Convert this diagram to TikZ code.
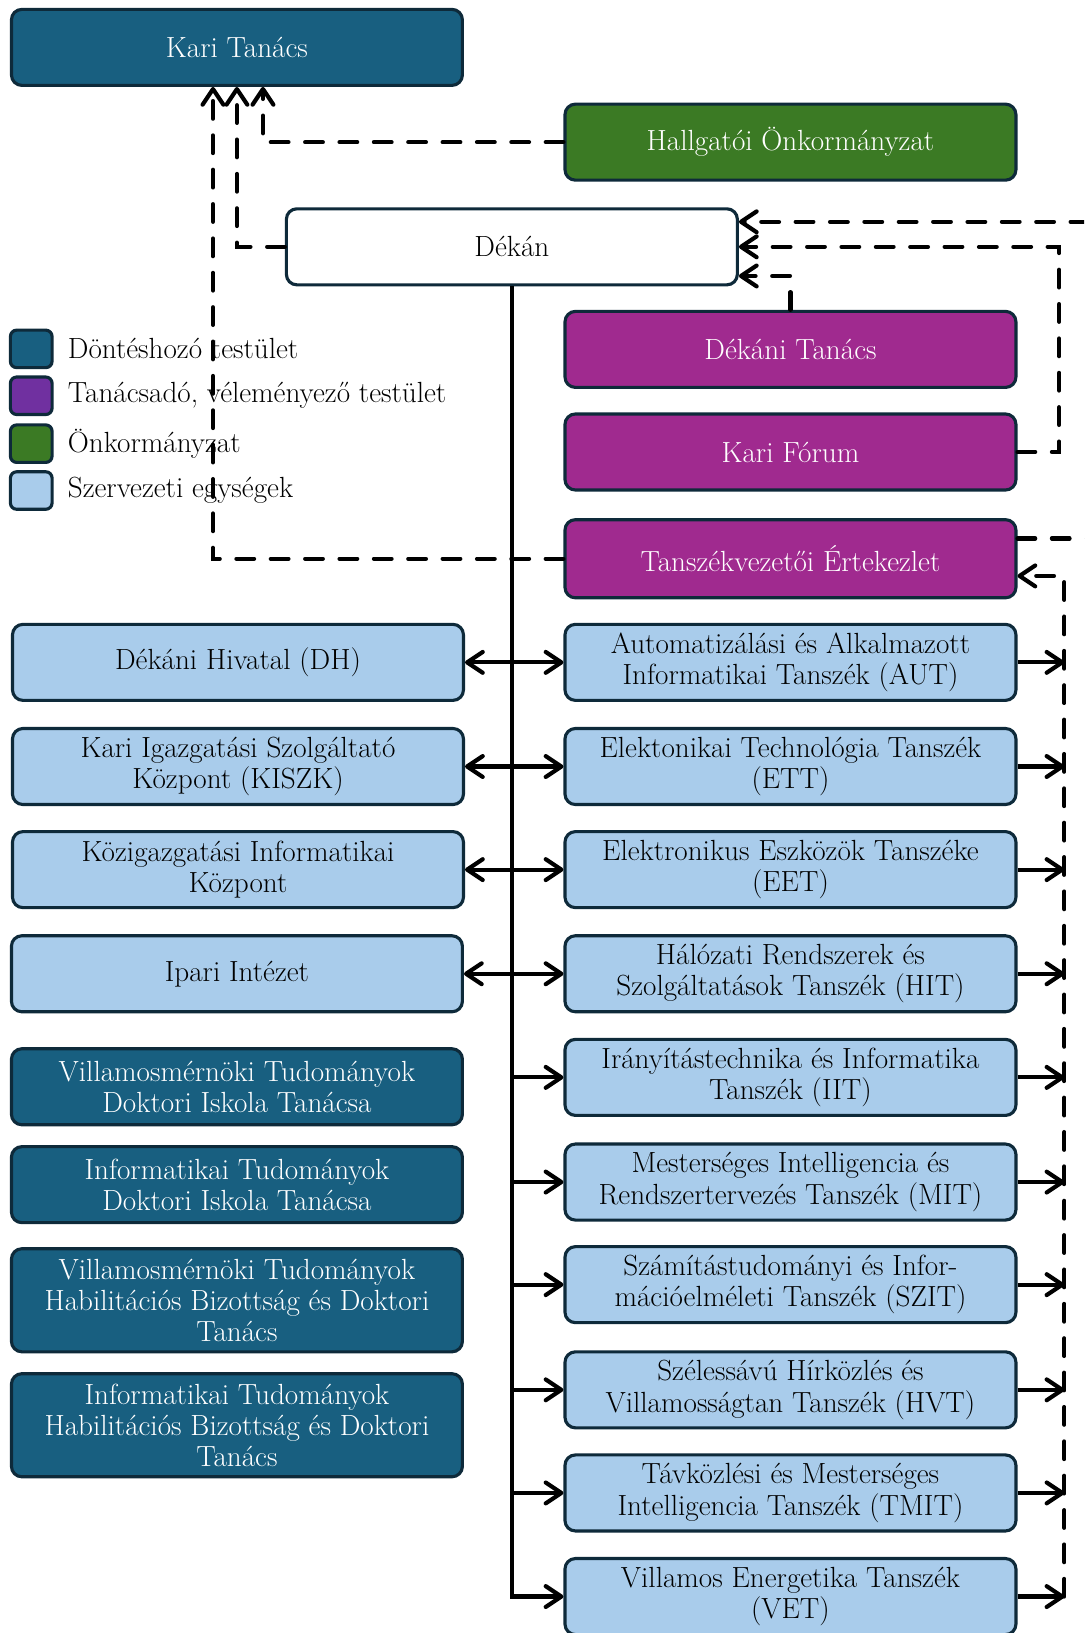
\documentclass[tikz,border=0pt]{standalone}
\usetikzlibrary{arrows.meta}

\definecolor{kekhatar}{RGB}{14,42,58}
\definecolor{sotetkek}{RGB}{24,95,128}
\definecolor{vilagoskek}{RGB}{169,204,235}
\definecolor{zold}{RGB}{59,122,36}
\definecolor{lila}{RGB}{160,42,143}
\definecolor{ibolya}{RGB}{112,48,160}

\tikzset{
	doboz/.style={draw=kekhatar, line width=3pt, rounded corners=10pt, minimum width=433pt, minimum height=73pt, inner sep=0pt, align=center, font=\fontsize{28}{30}\selectfont},
	dontes/.style={doboz, fill=sotetkek, text=white},
	tanacs/.style={doboz, fill=lila, text=white},
	egyseg/.style={doboz, fill=vilagoskek},
	jelmagyarazat/.style={draw=kekhatar, line width=3pt, rounded corners=6pt, minimum width=40pt, minimum height=36pt, inner sep=0pt},
	jeltext/.style={anchor=west, inner sep=0pt, font=\fontsize{28}{30}\selectfont},
	vonal/.style={line width=4pt, arrows={-}, >={Straight Barb[round, length=15pt, width=20pt]}},
	szaggatott/.style={vonal, line cap=round, dash pattern=on 17pt off 16pt}
}

\begin{document}
\begin{tikzpicture}[x=1pt, y=-1pt]
	\useasboundingbox (0,0) rectangle (1041,1568);
	\clip (0,0) rectangle (1041,1568);

	% felso szint
	\node[dontes] (kari) at (227.5,45.5) {Kari Tanács};
	\node[doboz, fill=zold, text=white] (hok) at (759,136.5) {Hallgatói Önkormányzat};
	\node[doboz, fill=white] (dekan) at (491.5,237) {Dékán};
	\node[tanacs] (dtanacs) at (759,335.5) {Dékáni Tanács};
	\node[tanacs] (forum) at (759,434) {Kari Fórum};
	\node[tanacs, minimum height=75pt] (tve) at (759,536.5) {Tanszékvezetői Értekezlet};

	% jelmagyarazat
	\node[jelmagyarazat, fill=sotetkek] (j1) at (30,335) {};
	\node[jelmagyarazat, fill=ibolya] (j2) at (30,380) {};
	\node[jelmagyarazat, fill=zold] (j3) at (30,426) {};
	\node[jelmagyarazat, fill=vilagoskek] (j4) at (30,471) {};
	\node[jeltext] (t1) at (65,335) {Döntéshozó testület};
	\node[jeltext] (t2) at (65,380) {Tanácsadó, véleményező testület};
	\node[jeltext] (t3) at (65,426) {Önkormányzat};
	\node[jeltext] (t4) at (65,471) {Szervezeti egységek};

	% bal oszlop
	\node[egyseg] (dh) at (228.5,636) {Dékáni Hivatal (DH)};
	\node[egyseg] (kiszk) at (228.5,736) {Kari Igazgatási Szolgáltató\\Központ (KISZK)};
	\node[egyseg] (kik) at (228.5,835) {Közigazgatási Informatikai\\Központ};
	\node[egyseg] (ipari) at (227.5,935) {Ipari Intézet};
	\node[dontes] (vtdi) at (227.5,1043.5) {Villamosmérnöki Tudományok\\Doktori Iskola Tanácsa};
	\node[dontes] (itdi) at (227.5,1137.5) {Informatikai Tudományok\\Doktori Iskola Tanácsa};
	\node[dontes, minimum height=99pt] (vthab) at (227.5,1248.5) {Villamosmérnöki Tudományok\\Habilitációs Bizottság és Doktori\\Tanács};
	\node[dontes, minimum height=99pt] (ithab) at (227.5,1368.5) {Informatikai Tudományok\\Habilitációs Bizottság és Doktori\\Tanács};

	% tanszekek
	\node[egyseg] (aut) at (759,636) {Automatizálási és Alkalmazott\\Informatikai Tanszék (AUT)};
	\node[egyseg] (ett) at (759,736) {Elektonikai Technológia Tanszék\\(ETT)};
	\node[egyseg] (eet) at (759,835) {Elektronikus Eszközök Tanszéke\\(EET)};
	\node[egyseg] (hit) at (759,935) {Hálózati Rendszerek és\\Szolgáltatások Tanszék (HIT)};
	\node[egyseg] (iit) at (759,1034.5) {Irányítástechnika és Informatika\\Tanszék (IIT)};
	\node[egyseg] (mit) at (759,1135) {Mesterséges Intelligencia és\\Rendszertervezés Tanszék (MIT)};
	\node[egyseg] (szit) at (759,1233.5) {Számítástudományi és Infor-\\mációelméleti Tanszék (SZIT)};
	\node[egyseg] (hvt) at (759,1334.5) {Szélessávú Hírközlés és\\Villamosságtan Tanszék (HVT)};
	\node[egyseg] (tmit) at (759,1433.5) {Távközlési és Mesterséges\\Intelligencia Tanszék (TMIT)};
	\node[egyseg] (vet) at (759,1533) {Villamos Energetika Tanszék\\(VET)};

	% kapcsolatok
	\draw[vonal, ->] (dekan.south) |- (vet.west);
	\foreach \l/\r in {dh/aut,kiszk/ett,kik/eet,ipari/hit}{
	\draw[vonal, <->] (\l.east) -- (\r.west);}
	\foreach \t in {iit,mit,szit,hvt,tmit}{
	\draw[vonal, ->] (dekan.south |- \t.west) -- (\t.west);}

	\coordinate (gyujto) at (1022,553);
	\foreach \t in {aut,ett,eet,hit,iit,mit,szit,hvt,tmit,vet}{
	\draw[vonal, ->] (\t.east) -- (\t.east -| gyujto);}
	\draw[szaggatott, ->] (vet.east -| gyujto) -- (gyujto) -- ([yshift=-16.5pt]tve.east);

	\draw[szaggatott, ->] (hok.west) -| ([xshift=25pt]kari.south);
	\draw[szaggatott, ->] (dekan.west) -| (kari.south);
	\draw[szaggatott, ->] (tve.west) -| ([xshift=-23pt]kari.south);

	\draw[szaggatott, ->] (dtanacs.north) |- ([yshift=-28pt]dekan.east);
	\draw[szaggatott, ->] (forum.east) -- ++(40,0) |- (dekan.east);
	\draw[szaggatott, ->] ([yshift=19.5pt]tve.east) -- ++(80,0) |- ([yshift=24pt]dekan.east);
\end{tikzpicture}
\end{document}
